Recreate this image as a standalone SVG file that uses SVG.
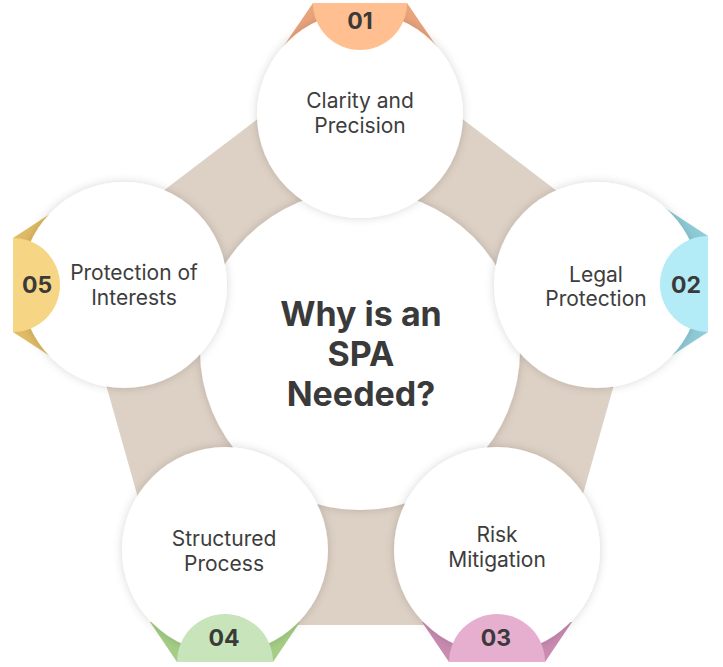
<svg xmlns="http://www.w3.org/2000/svg" width="723" height="667" viewBox="0 0 723 667">
<style>
.lbl{font-family:Inter,"Liberation Sans",sans-serif;font-size:21px;fill:#3d3d3d;text-anchor:middle}
.title{font-family:Inter,"Liberation Sans",sans-serif;font-size:34px;font-weight:700;fill:#3a3a3a;text-anchor:middle}
.num{font-family:Inter,"Liberation Sans",sans-serif;font-size:23px;font-weight:700;fill:#3a3a3a;text-anchor:middle}
.disc{fill:#ffffff;filter:url(#sh)}
</style>
<defs>
<filter id="sh" x="-20%" y="-20%" width="140%" height="140%">
<feDropShadow dx="0" dy="0" stdDeviation="5" flood-color="#000" flood-opacity="0.16"/>
</filter>
</defs>
<rect width="723" height="667" fill="#ffffff"/>
<g id="connectors">
<polygon points="360,41 649,261 546,625 174,625 71,261" fill="#ddd0c4"/>
</g>
<g id="flaps">
<polygon points="313,3 283,47 330,47" fill="#e9a47c"/>
<polygon points="407,3 437,47 390,47" fill="#e9a47c"/>
<polygon points="708,236 665,208 665,250" fill="#8ecbd7"/>
<polygon points="708,332 665,360 665,318" fill="#8ecbd7"/>
<polygon points="449,662 422,622 470,622" fill="#c98bb0"/>
<polygon points="545,662 572,622 524,622" fill="#c98bb0"/>
<polygon points="177,662 150,622 198,622" fill="#a5cd85"/>
<polygon points="273,662 300,622 252,622" fill="#a5cd85"/>
<polygon points="13,238 56,210 56,252" fill="#dfbb66"/>
<polygon points="13,332 56,360 56,318" fill="#dfbb66"/>
</g>
<g id="center">
<circle class="disc" cx="360" cy="350" r="160"/>
<text class="title"><tspan x="361" y="326">Why is an</tspan><tspan x="361" y="366">SPA</tspan><tspan x="361" y="406">Needed?</tspan></text>
</g>
<g id="node1">
<circle class="disc" cx="360" cy="115" r="103"/>
<path d="M313,3 A47,47 0 0 0 407,3 Z" fill="#ffbf90"/>
<text class="num" x="360" y="29">01</text>
<text class="lbl" x="360" y="108">Clarity and</text>
<text class="lbl" x="360" y="133">Precision</text>
</g>
<g id="node2">
<circle class="disc" cx="597" cy="285" r="103"/>
<path d="M708,236 A48,48 0 0 0 708,332 Z" fill="#b3ebf6"/>
<text class="num" x="686" y="293">02</text>
<text class="lbl" x="596" y="282">Legal</text>
<text class="lbl" x="596" y="306">Protection</text>
</g>
<g id="node3">
<circle class="disc" cx="497" cy="550" r="103"/>
<path d="M449,662 A48,48 0 0 1 545,662 Z" fill="#e6afd0"/>
<text class="num" x="496" y="646">03</text>
<text class="lbl" x="497" y="542">Risk</text>
<text class="lbl" x="497" y="567">Mitigation</text>
</g>
<g id="node4">
<circle class="disc" cx="225" cy="550" r="103"/>
<path d="M177,662 A48,48 0 0 1 273,662 Z" fill="#c8e4bb"/>
<text class="num" x="224" y="646">04</text>
<text class="lbl" x="224" y="546">Structured</text>
<text class="lbl" x="224" y="571">Process</text>
</g>
<g id="node5">
<circle class="disc" cx="124" cy="285" r="103"/>
<path d="M13,238 A47,47 0 0 1 13,332 Z" fill="#f6d684"/>
<text class="num" x="37" y="293">05</text>
<text class="lbl" x="134" y="280">Protection of</text>
<text class="lbl" x="134" y="305">Interests</text>
</g>
</svg>
